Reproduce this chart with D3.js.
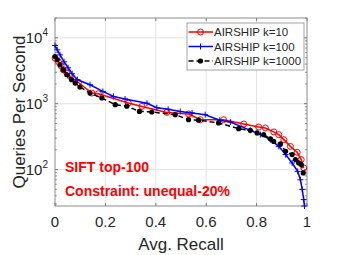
<!DOCTYPE html>
<html>
<head>
<meta charset="utf-8">
<script src="https://cdn.jsdelivr.net/npm/d3@7"></script>
<style>
  body { margin: 0; background: #fff; }
  svg { font-family: "Liberation Sans", Arial, sans-serif; }
</style>
</head>
<body>
<svg id="chart" width="339" height="255"></svg>
<script>
// recall / QPS
const k10Recall = [0, 0.013, 0.024, 0.033, 0.047, 0.06, 0.093, 0.146, 0.172, 0.291, 0.345, 0.444, 0.53, 0.577, 0.669, 0.749, 0.808, 0.835, 0.868, 0.888, 0.908, 0.934, 0.961, 0.977, 0.987];
const k10Qps = [4920, 4380, 3770, 3270, 2920, 2600, 2100, 1450, 1420, 1025, 910, 738, 698, 572, 572, 492, 443, 428, 373, 339, 285, 225, 183, 142, 106];

const k100Recall = [0, 0.009, 0.02, 0.036, 0.052, 0.068, 0.089, 0.139, 0.19, 0.232, 0.278, 0.365, 0.404, 0.449, 0.497, 0.544, 0.596, 0.654, 0.696, 0.775, 0.815, 0.855, 0.888, 0.915, 0.941, 0.963, 0.974, 0.981, 0.987, 0.99];
const k100Qps = [7640, 6580, 5520, 4330, 3510, 2850, 2310, 1940, 1535, 1290, 1180, 1017, 870, 825, 764, 723, 681, 562, 528, 394, 339, 285, 225, 169, 126, 94, 70, 50, 35, 28];

const k1000Recall = [0, 0.009, 0.02, 0.033, 0.047, 0.066, 0.08, 0.099, 0.139, 0.186, 0.239, 0.285, 0.335, 0.384, 0.477, 0.53, 0.57, 0.649, 0.729, 0.775, 0.802, 0.828, 0.855, 0.868, 0.895, 0.915, 0.941, 0.954, 0.967, 0.977, 0.985];
const k1000Qps = [5210, 4640, 3900, 3270, 2750, 2310, 2060, 1790, 1450, 1220, 966, 916, 764, 748, 681, 572, 562, 511, 418, 394, 360, 339, 292, 268, 245, 189, 169, 142, 126, 119, 89];

const seriesNames = ['AIRSHIP k=10', 'AIRSHIP k=100', 'AIRSHIP k=1000'];
const xTicks = [0, 0.2, 0.4, 0.6, 0.8, 1];
const yTicks = [100, 1000, 10000];
const yExp = ['2', '3', '4'];
const notes = ['SIFT top-100', 'Constraint: unequal-20%'];

const svg = d3.select('#chart');
const margin = { top: 18, right: 32, bottom: 49, left: 55 };
const width = +svg.attr('width') - margin.left - margin.right;
const height = +svg.attr('height') - margin.top - margin.bottom;

const g = svg.append('g').attr('transform', `translate(${margin.left},${margin.top})`);

const x = d3.scaleLinear().domain([0, 1]).range([0, width]);
const y = d3.scaleLog().domain([28, 20000]).range([height, 0]);

// grid
g.append('g').selectAll('line').data(xTicks.slice(1, -1)).join('line')
  .attr('x1', d => x(d)).attr('x2', d => x(d))
  .attr('y1', 0).attr('y2', height)
  .attr('stroke', '#e3e3e3').attr('stroke-width', 1);
g.append('g').selectAll('line').data(yTicks).join('line')
  .attr('x1', 0).attr('x2', width)
  .attr('y1', d => y(d)).attr('y2', d => y(d))
  .attr('stroke', '#e3e3e3').attr('stroke-width', 1);

// ticks, inward on all four sides
const minor = [];
[10, 100, 1000, 10000].forEach(dec => {
  for (let m = 2; m <= 9; m++) {
    const v = dec * m;
    if (v >= 28 && v <= 20000) minor.push(v);
  }
});
const tickColor = '#262626';
const ticks = g.append('g').attr('stroke', tickColor).attr('stroke-width', 0.6);
xTicks.forEach(t => {
  ticks.append('line').attr('x1', x(t)).attr('x2', x(t)).attr('y1', height).attr('y2', height - 3);
  ticks.append('line').attr('x1', x(t)).attr('x2', x(t)).attr('y1', 0).attr('y2', 3);
});
yTicks.forEach(t => {
  ticks.append('line').attr('x1', 0).attr('x2', 3).attr('y1', y(t)).attr('y2', y(t));
  ticks.append('line').attr('x1', width).attr('x2', width - 3).attr('y1', y(t)).attr('y2', y(t));
});
minor.forEach(t => {
  ticks.append('line').attr('x1', 0).attr('x2', 1.8).attr('y1', y(t)).attr('y2', y(t));
  ticks.append('line').attr('x1', width).attr('x2', width - 1.8).attr('y1', y(t)).attr('y2', y(t));
});

// tick labels
g.append('g').selectAll('text').data(xTicks).join('text')
  .attr('x', d => x(d)).attr('y', height + 21)
  .attr('text-anchor', 'middle')
  .attr('font-size', 15).attr('fill', tickColor)
  .text(d => d3.format('~g')(d));

const yl = g.append('g').selectAll('text').data(yTicks).join('text')
  .attr('x', -7).attr('y', d => y(d) + 5)
  .attr('text-anchor', 'end')
  .attr('font-size', 15).attr('fill', tickColor);
yl.append('tspan').text('10');
yl.append('tspan').attr('font-size', 10).attr('dy', -7).text((d, i) => yExp[i]);

// axis labels
g.append('text')
  .attr('x', width / 2).attr('y', height + 44)
  .attr('text-anchor', 'middle')
  .attr('font-size', 17).attr('fill', tickColor)
  .text('Avg. Recall');
g.append('text')
  .attr('transform', 'rotate(-90)')
  .attr('x', -height / 2).attr('y', -30)
  .attr('text-anchor', 'middle')
  .attr('font-size', 17).attr('fill', tickColor)
  .text('Queries Per Second');

// box
g.append('rect')
  .attr('width', width).attr('height', height)
  .attr('fill', 'none').attr('stroke', '#8c8c8c').attr('stroke-width', 1);

// series
const series = [
  { name: seriesNames[0], xs: k10Recall, ys: k10Qps, color: '#ff0000', dash: null, marker: 'circle' },
  { name: seriesNames[1], xs: k100Recall, ys: k100Qps, color: '#0000ff', dash: null, marker: 'plus' },
  { name: seriesNames[2], xs: k1000Recall, ys: k1000Qps, color: '#000000', dash: '5,3', marker: 'dot' }
];

const line = d3.line().x(d => x(d[0])).y(d => y(d[1]));

function drawMarker(sel, s, cx, cy) {
  if (s.marker === 'circle') {
    sel.append('circle').attr('cx', cx).attr('cy', cy).attr('r', 3)
      .attr('fill', 'none').attr('stroke', s.color).attr('stroke-width', 1);
  } else if (s.marker === 'plus') {
    sel.append('path').attr('d', `M${cx - 3},${cy}H${cx + 3}M${cx},${cy - 3}V${cy + 3}`)
      .attr('stroke', s.color).attr('stroke-width', 1);
  } else {
    sel.append('circle').attr('cx', cx).attr('cy', cy).attr('r', 2.6)
      .attr('fill', s.color);
  }
}

const plot = g.append('g');
series.forEach(s => {
  const pts = s.xs.map((v, i) => [v, s.ys[i]]);
  plot.append('path').datum(pts)
    .attr('d', line)
    .attr('fill', 'none').attr('stroke', s.color).attr('stroke-width', 1.5)
    .attr('stroke-dasharray', s.dash);
  const mg = plot.append('g');
  pts.forEach(p => drawMarker(mg, s, x(p[0]), y(p[1])));
});

// legend
const leg = g.append('g').attr('transform', `translate(${width - 120},5)`);
leg.append('rect').attr('width', 117).attr('height', 47)
  .attr('fill', '#fff').attr('stroke', '#8c8c8c').attr('stroke-width', 0.8);
series.forEach((s, i) => {
  const ly = 9 + i * 14.5;
  leg.append('line').attr('x1', 1.5).attr('x2', 26).attr('y1', ly).attr('y2', ly)
    .attr('stroke', s.color).attr('stroke-width', 1.5).attr('stroke-dasharray', s.dash);
  drawMarker(leg, s, 13.5, ly);
  leg.append('text').attr('x', 27).attr('y', ly + 4.2)
    .attr('font-size', 11.5).attr('fill', tickColor).text(s.name);
});

// annotations
g.append('g').selectAll('text').data(notes).join('text')
  .attr('x', 10).attr('y', (d, i) => 154 + i * 24)
  .attr('font-size', 14).attr('font-weight', 'bold').attr('fill', '#ff0000')
  .text(d => d);
</script>
</body>
</html>
